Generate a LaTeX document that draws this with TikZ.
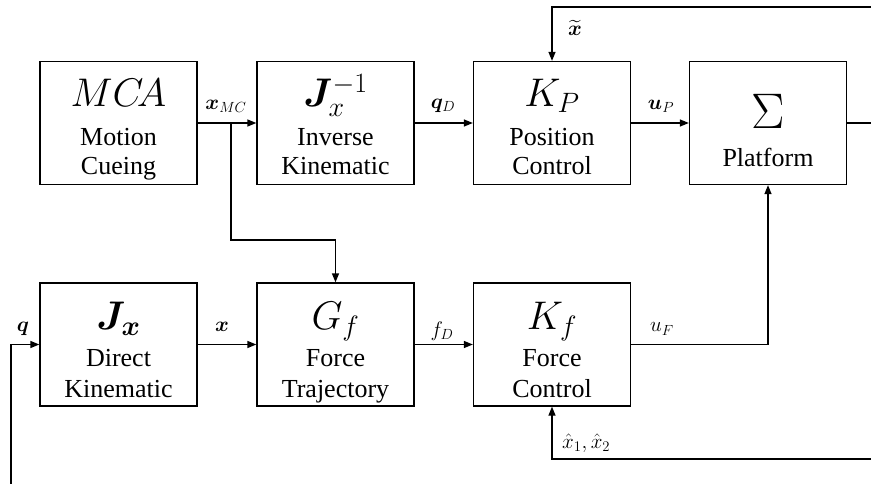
\RequirePackage{fix-cm}
\documentclass[tikz,border=0pt]{standalone}
\usepackage{amsmath,amssymb,bm}
\usepackage{fontspec}
\setmainfont{Liberation Serif}
\usetikzlibrary{arrows.meta}
\begin{document}
\begin{tikzpicture}[x=1pt,y=-1pt,
 blk/.style={draw, line width=1.3pt, minimum width=157pt, minimum height=123pt, inner sep=0pt},
 sym/.style={font=\fontsize{40}{44}\selectfont, anchor=base, inner sep=0pt},
 txt/.style={font=\fontsize{26}{30}\selectfont, anchor=base, inner sep=0pt},
 lab/.style={font=\fontsize{21}{24}\selectfont, inner sep=0pt},
 arr/.style={line width=1.3pt, -{Triangle[length=9pt,width=7pt]}},
 ln/.style={line width=1.3pt}]
\useasboundingbox (0,0) rectangle (871,484);
% blocks
\node[blk] (mca)  at (118.5,123) {};
\node[blk] (jinv) at (335.5,123) {};
\node[blk] (kp)   at (552,123) {};
\node[blk] (plat) at (768,123) {};
\node[blk] (jx)   at (118.5,344.5) {};
\node[blk] (gf)   at (335.5,344.5) {};
\node[blk] (kf)   at (552,344.5) {};
% block contents
\node[sym] (mcas) at (118.5,107) {$MC\!A$};
\node[txt] (mcat1) at (118.5,146) {Motion};
\node[txt] (mcat2) at (118.5,175) {Cueing};
\node[sym] (jinvs) at (335.5,107) {$\boldsymbol{J}_x^{-1}$};
\node[txt] (jinvt1) at (335.5,146) {Inverse};
\node[txt] (jinvt2) at (335.5,175) {Kinematic};
\node[sym] (kps) at (552,107) {$K_P$};
\node[txt] (kpt1) at (552,146) {Position};
\node[txt] (kpt2) at (552,175) {Control};
\node[sym,font=\fontsize{50}{54}\selectfont] (plats) at (768,129) {$\Sigma$};
\node[txt] (platt) at (768,167) {Platform};
\node[sym] (jxs) at (118.5,329) {$\boldsymbol{J}_{\boldsymbol{x}}$};
\node[txt] (jxt1) at (118.5,366) {Direct};
\node[txt] (jxt2) at (118.5,397) {Kinematic};
\node[sym] (gfs) at (335.5,329) {$G_f$};
\node[txt] (gft1) at (335.5,366) {Force};
\node[txt] (gft2) at (335.5,397) {Trajectory};
\node[sym] (kfs) at (552,329) {$K_f$};
\node[txt] (kft1) at (552,366) {Force};
\node[txt] (kft2) at (552,397) {Control};
% coordinates
\coordinate (br) at (231,123);
\coordinate (bend) at (231,240);
\coordinate (out) at (871,123);
\coordinate (fbt) at (871,7);
\coordinate (fbb) at (871,459);
\coordinate (qs) at (11,484);
% connectors
\draw[arr] (mca.east) -- (jinv.west);
\draw[arr] (br) -- (bend) -| (gf.north);
\draw[arr] (jinv.east) -- (kp.west);
\draw[arr] (kp.east) -- (plat.west);
\draw[ln] (plat.east) -- (out);
\draw[arr] (fbt) -| (kp.north);
\draw[arr] (fbb) -| (kf.south);
\draw[arr] (qs) |- (jx.west);
\draw[arr] (jx.east) -- (gf.west);
\draw[arr] (gf.east) -- (kf.west);
\draw[arr] (kf.east) -| (plat.south);
% labels
\node[lab] (lxmc) at (226,106) {$\boldsymbol{x}_{MC}$};
\node[lab] (lqd) at (443,106) {$\boldsymbol{q}_D$};
\node[lab] (lup) at (661,106) {$\boldsymbol{u}_P$};
\node[lab] (lxt) at (575,28) {$\widetilde{\boldsymbol{x}}$};
\node[lab] (lq) at (23,329) {$\boldsymbol{q}$};
\node[lab] (lx) at (222,327) {$\boldsymbol{x}$};
\node[lab] (lfd) at (442,331) {$f_D$};
\node[lab] (luf) at (662,329) {$u_F$};
\node[lab,anchor=west] (lxh) at (562,443) {$\hat{x}_1,\hat{x}_2$};
\end{tikzpicture}
\end{document}
